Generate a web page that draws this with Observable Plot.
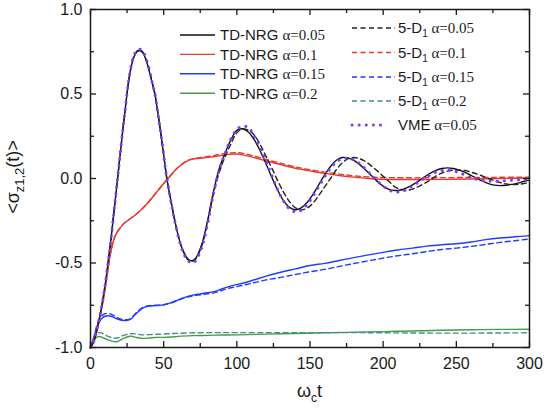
<!DOCTYPE html>
<html><head><meta charset="utf-8">
<script src="https://cdn.jsdelivr.net/npm/d3@7"></script>
<script src="https://cdn.jsdelivr.net/npm/@observablehq/plot@0.6"></script>
<style>html,body{margin:0;padding:0;background:#fff;} #chart svg{display:block}</style>
</head><body><div id="chart"></div>
<script>
// ---- data ----
const tOsc = [0,2,4,6,8,10,12,14,16,18,20,22,24,26,28,30,32,34,36,38,40,42,44,46,48,50,52,54,56,58,60,62,64,66,68,70,72,
  76,80,84,88,92,96,100,104,108,112,116,120,124,128,132,136,140,144,148,152,156,160,164,168,172,176,180,184,188,192,196,200,
  204,208,212,216,220,224,228,232,236,240,244,248,252,256,260,264,268,272,276,280,284,288,292,296,300];
const tdnrg005 = [-1,-0.97,-0.91,-0.83,-0.74,-0.63,-0.50,-0.36,-0.20,-0.04,0.12,0.28,0.43,0.57,0.67,0.725,0.752,0.755,0.74,0.70,0.64,0.57,0.50,0.39,0.27,0.14,0.01,-0.09,-0.18,-0.265,-0.34,-0.40,-0.44,-0.47,-0.485,-0.485,-0.47,
  -0.39,-0.25,-0.08,0.06,0.15,0.23,0.285,0.294,0.274,0.228,0.163,0.086,0.005,-0.071,-0.132,-0.171,-0.185,-0.174,-0.142,-0.094,-0.037,0.021,0.071,0.108,0.124,0.122,0.107,0.082,0.050,0.016,-0.017,-0.045,
  -0.064,-0.071,-0.068,-0.056,-0.038,-0.016,0.008,0.030,0.048,0.059,0.063,0.059,0.050,0.036,0.019,0.001,-0.016,-0.030,-0.039,-0.042,-0.040,-0.035,-0.027,-0.018,-0.010];
const d5_005 = [-1,-0.97,-0.91,-0.83,-0.74,-0.63,-0.50,-0.36,-0.20,-0.04,0.12,0.28,0.43,0.57,0.67,0.728,0.756,0.76,0.745,0.705,0.645,0.575,0.50,0.39,0.27,0.14,0.01,-0.09,-0.18,-0.265,-0.34,-0.40,-0.445,-0.475,-0.49,-0.49,-0.475,
  -0.40,-0.26,-0.09,0.036,0.13,0.205,0.27,0.293,0.285,0.256,0.20,0.13,0.06,-0.014,-0.082,-0.137,-0.173,-0.185,-0.175,-0.146,-0.10,-0.05,0.0,0.052,0.092,0.117,0.124,0.117,0.100,0.074,0.045,0.013,
  -0.018,-0.05,-0.065,-0.07,-0.063,-0.048,-0.03,-0.009,0.014,0.032,0.044,0.05,0.05,0.047,0.038,0.027,0.014,0.0,-0.012,-0.024,-0.032,-0.036,-0.035,-0.03,-0.023];
const vme005 = [-1,-0.97,-0.91,-0.83,-0.74,-0.63,-0.50,-0.36,-0.20,-0.04,0.12,0.28,0.43,0.575,0.675,0.735,0.76,0.765,0.75,0.71,0.65,0.575,0.50,0.39,0.27,0.14,0.01,-0.09,-0.185,-0.27,-0.345,-0.405,-0.45,-0.48,-0.495,-0.50,-0.485,
  -0.41,-0.27,-0.09,0.05,0.15,0.235,0.29,0.31,0.30,0.25,0.18,0.10,0.015,-0.068,-0.135,-0.18,-0.197,-0.188,-0.155,-0.105,-0.048,0.01,0.06,0.098,0.117,0.12,0.11,0.087,0.056,0.02,-0.015,-0.045,
  -0.068,-0.08,-0.078,-0.065,-0.045,-0.022,0.0,0.02,0.037,0.047,0.05,0.045,0.034,0.02,0.006,-0.005,-0.012,-0.016,-0.017,-0.016,-0.013,-0.01,-0.008,-0.006,-0.005];

const tRed = [0,2,4,6,8,10,12,14,16,18,20,23,26,30,34,38,42,46,50,54,58,62,66,70,75,80,85,90,95,100,105,110,115,120,125,130,135,140,145,150,160,170,180,190,200,220,240,260,280,300];
const tdnrg01 = [-1,-0.96,-0.90,-0.83,-0.75,-0.65,-0.53,-0.43,-0.36,-0.32,-0.295,-0.265,-0.245,-0.22,-0.19,-0.155,-0.115,-0.072,-0.03,0.01,0.05,0.08,0.103,0.115,0.12,0.125,0.13,0.137,0.143,0.145,0.138,0.128,0.116,0.105,0.093,0.082,0.071,0.061,0.053,0.045,0.03,0.018,0.008,0.0,-0.004,-0.006,-0.005,-0.003,0.0,0.003];
const d5_01 = [-1,-0.96,-0.90,-0.83,-0.75,-0.65,-0.53,-0.43,-0.36,-0.32,-0.295,-0.265,-0.245,-0.22,-0.19,-0.155,-0.115,-0.072,-0.03,0.01,0.05,0.082,0.106,0.118,0.124,0.13,0.137,0.145,0.151,0.153,0.147,0.137,0.125,0.113,0.101,0.09,0.079,0.069,0.06,0.052,0.038,0.026,0.016,0.009,0.006,0.004,0.005,0.006,0.007,0.008];

const tBlue = [0,2,4,6,8,10,12,14,16,18,20,22,24,26,28,30,33,36,40,45,50,55,60,65,70,75,80,85,90,95,100,110,120,130,140,150,160,170,180,190,200,210,220,230,240,250,260,270,280,290,300];
const tdnrg015 = [-1,-0.95,-0.89,-0.85,-0.825,-0.815,-0.812,-0.815,-0.822,-0.83,-0.836,-0.84,-0.84,-0.838,-0.83,-0.81,-0.785,-0.765,-0.755,-0.752,-0.748,-0.735,-0.718,-0.702,-0.69,-0.683,-0.676,-0.668,-0.652,-0.638,-0.628,-0.605,-0.578,-0.555,-0.535,-0.515,-0.502,-0.485,-0.468,-0.452,-0.437,-0.423,-0.412,-0.400,-0.392,-0.386,-0.376,-0.362,-0.352,-0.345,-0.338];
const d5_015 = [-1,-0.95,-0.88,-0.835,-0.81,-0.80,-0.798,-0.802,-0.812,-0.822,-0.83,-0.835,-0.836,-0.834,-0.826,-0.806,-0.78,-0.762,-0.752,-0.75,-0.747,-0.736,-0.72,-0.705,-0.694,-0.688,-0.682,-0.675,-0.661,-0.648,-0.64,-0.62,-0.60,-0.585,-0.568,-0.552,-0.538,-0.52,-0.503,-0.487,-0.471,-0.457,-0.445,-0.432,-0.42,-0.412,-0.402,-0.39,-0.378,-0.368,-0.358];

const tGreen = [0,2,4,6,8,10,13,16,18,20,23,26,28,31,35,40,45,50,55,60,70,80,90,100,120,140,160,180,200,220,240,260,280,300];
const tdnrg02 = [-1,-0.96,-0.94,-0.935,-0.94,-0.948,-0.958,-0.965,-0.966,-0.958,-0.945,-0.935,-0.933,-0.94,-0.946,-0.944,-0.94,-0.94,-0.938,-0.934,-0.93,-0.928,-0.926,-0.925,-0.921,-0.917,-0.913,-0.91,-0.906,-0.902,-0.898,-0.895,-0.893,-0.892];
const d5_02 = [-1,-0.95,-0.92,-0.912,-0.915,-0.925,-0.937,-0.944,-0.945,-0.938,-0.927,-0.92,-0.918,-0.92,-0.925,-0.924,-0.922,-0.92,-0.918,-0.916,-0.913,-0.912,-0.912,-0.912,-0.912,-0.912,-0.912,-0.912,-0.913,-0.914,-0.915,-0.915,-0.914,-0.913];

const xMajor = [0,50,100,150,200,250,300];
const xMinor = [25,75,125,175,225,275];
const yMajor = [-1,-0.5,0,0.5,1];
const yMinor = [-0.75,-0.25,0.25,0.75];

const legendLeft = ["TD-NRG", "TD-NRG", "TD-NRG", "TD-NRG"];
const legendLeftAlpha = ["α=0.05", "α=0.1", "α=0.15", "α=0.2"];
const legendRight = ["5-D", "5-D", "5-D", "5-D", "VME"];
const legendRightAlpha = ["α=0.05", "α=0.1", "α=0.15", "α=0.2", "α=0.05"];

// ---- style ----
const BLACK = "#111", RED = "#e8392e", BLUE = "#1f3cff", GREEN = "#4a9a45", TEAL = "#3f8f8f", PURPLE = "#7a3cff";
const SANS = "'Liberation Sans', Arial, sans-serif", SERIF = "'Liberation Serif', 'Times New Roman', serif";
const W = 544, H = 410, mL = 90, mR = 15, mT = 9, mB = 63;
const innerH = H - mT - mB, innerW = W - mL - mR;
const series = (ts, vs) => ts.map((t, i) => ({t, v: vs[i]}));
const ln = (ts, vs, o) => Plot.line(series(ts, vs), {x: "t", y: "v", curve: "catmull-rom", strokeWidth: 1.4, ...o});

const plot = Plot.plot({
  width: W, height: H, marginLeft: mL, marginRight: mR, marginTop: mT, marginBottom: mB,
  style: {fontFamily: SANS, background: "white", color: "#1a1a1a"},
  x: {domain: [0, 300]},
  y: {domain: [-1, 1]},
  marks: [
    ln(tGreen, tdnrg02, {stroke: GREEN}),
    ln(tBlue, tdnrg015, {stroke: BLUE}),
    ln(tRed, tdnrg01, {stroke: RED}),
    ln(tOsc, tdnrg005, {stroke: BLACK}),
    ln(tGreen, d5_02, {stroke: TEAL, strokeDasharray: "5,3.5"}),
    ln(tBlue, d5_015, {stroke: BLUE, strokeDasharray: "5,3.5"}),
    ln(tRed, d5_01, {stroke: RED, strokeDasharray: "5,3.5"}),
    ln(tOsc, d5_005, {stroke: "#222", strokeDasharray: "5,3.5"}),
    ln(tOsc, vme005, {stroke: PURPLE, strokeWidth: 3, strokeDasharray: "0.1,7", strokeLinecap: "round"}),
    Plot.frame({stroke: "#1a1a1a", strokeWidth: 1.5}),
    Plot.ruleX(xMajor, {insetTop: innerH - 6, stroke: "#1a1a1a", strokeWidth: 1.3}),
    Plot.ruleX(xMajor, {insetBottom: innerH - 6, stroke: "#1a1a1a", strokeWidth: 1.3}),
    Plot.ruleX(xMinor, {insetTop: innerH - 4, stroke: "#1a1a1a", strokeWidth: 1.3}),
    Plot.ruleX(xMinor, {insetBottom: innerH - 4, stroke: "#1a1a1a", strokeWidth: 1.3}),
    Plot.ruleY(yMajor, {insetRight: innerW - 6, stroke: "#1a1a1a", strokeWidth: 1.3}),
    Plot.ruleY(yMajor, {insetLeft: innerW - 6, stroke: "#1a1a1a", strokeWidth: 1.3}),
    Plot.ruleY(yMinor, {insetRight: innerW - 4, stroke: "#1a1a1a", strokeWidth: 1.3}),
    Plot.ruleY(yMinor, {insetLeft: innerW - 4, stroke: "#1a1a1a", strokeWidth: 1.3}),
    Plot.axisX(xMajor, {tickSize: 0, tickPadding: 10, fontSize: 16, label: null, fill: "#1a1a1a"}),
    Plot.axisY(yMajor, {tickSize: 0, tickPadding: 8, fontSize: 16, label: null, fill: "#1a1a1a", tickFormat: d => d.toFixed(1)})
  ]
});
document.getElementById("chart").appendChild(plot);

// ---- axis titles & legend ----
const svg = d3.select(plot);
const xl = svg.append("text").attr("x", (mL + W - mR) / 2).attr("y", 397).attr("text-anchor", "middle")
  .attr("fill", "#1a1a1a").style("font-family", SANS).style("font-size", "18px");
xl.append("tspan").text("ω");
xl.append("tspan").attr("dy", 5).style("font-size", "12px").text("c");
xl.append("tspan").attr("dy", -5).text("t");

const yl = svg.append("text").attr("transform", "translate(19,177) rotate(-90)").attr("text-anchor", "middle")
  .attr("fill", "#1a1a1a").style("font-family", SANS).style("font-size", "18px");
yl.append("tspan").text("<σ");
yl.append("tspan").attr("dy", 5).style("font-size", "13px").text("z1,2");
yl.append("tspan").attr("dy", -5).text("(t)>");

const leftColors = [BLACK, RED, BLUE, GREEN];
legendLeft.forEach((lab, i) => {
  const y = 35 + i * 19.4;
  svg.append("line").attr("x1", 180).attr("x2", 215).attr("y1", y).attr("y2", y)
    .attr("stroke", leftColors[i]).attr("stroke-width", 1.4);
  const t = svg.append("text").attr("x", 220).attr("y", y + 5.3).attr("text-anchor", "start")
    .attr("fill", "#1a1a1a").style("font-size", "15px");
  t.append("tspan").style("font-family", SANS).text(lab + " ");
  t.append("tspan").style("font-family", SERIF).text(legendLeftAlpha[i]);
});

const rightColors = ["#222", RED, BLUE, TEAL, PURPLE];
const rightRows = [28, 52.5, 77, 101, 125];
legendRight.forEach((lab, i) => {
  const y = rightRows[i];
  const isVme = lab === "VME";
  svg.append("line").attr("x1", 352).attr("x2", isVme ? 386 : 395).attr("y1", y).attr("y2", y)
    .attr("stroke", rightColors[i])
    .attr("stroke-width", isVme ? 3 : 1.4)
    .attr("stroke-linecap", isVme ? "round" : "butt")
    .attr("stroke-dasharray", isVme ? "0.1,7" : "5,3.5");
  const t = svg.append("text").attr("x", 398).attr("y", y + 5.3).attr("text-anchor", "start")
    .attr("fill", "#1a1a1a").style("font-size", "15px");
  t.append("tspan").style("font-family", SANS).text(lab);
  if (!isVme) {
    t.append("tspan").style("font-family", SANS).style("font-size", "10px").attr("dy", 4).text("1");
    t.append("tspan").style("font-family", SERIF).attr("dy", -4).text(" " + legendRightAlpha[i]);
  } else {
    t.append("tspan").style("font-family", SERIF).text(" " + legendRightAlpha[i]);
  }
});
</script>
</body></html>
